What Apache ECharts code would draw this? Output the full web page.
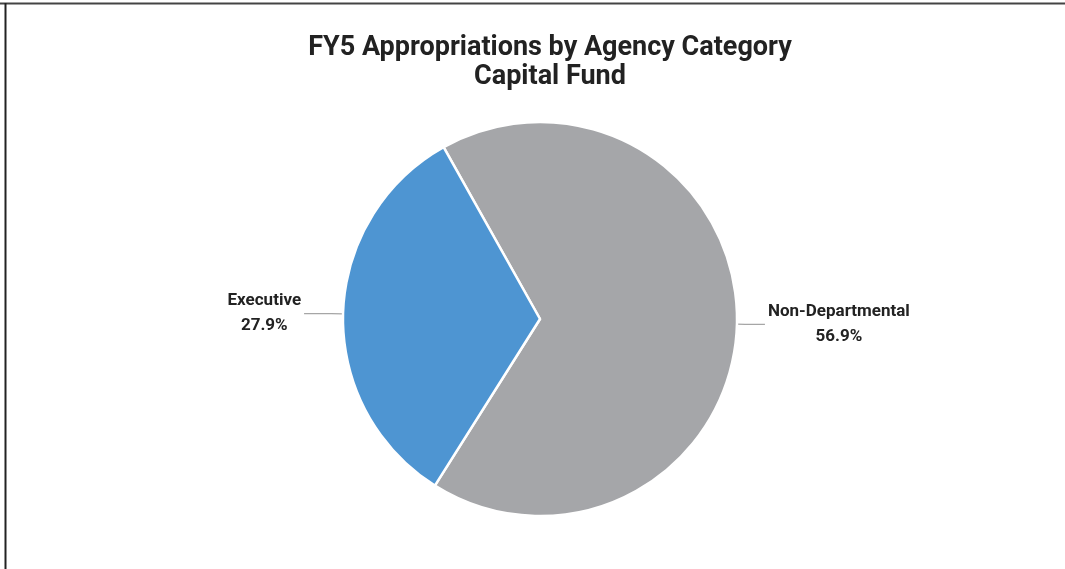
<!DOCTYPE html>
<html>
<head>
<meta charset="utf-8">
<script src="https://cdn.jsdelivr.net/npm/echarts@6/dist/echarts.min.js"></script>
<style>
    html, body { margin: 0; padding: 0; background: #fff; }
    #chart { width: 1065px; height: 569px; }
</style>
</head>
<body>
<div id="chart"></div>
<script>
const categories = ["Non-Departmental", "Executive"];
const values = [56.9, 27.9];
const colors = ["#A5A6A9", "#4E95D2"];

const getOption = () => {
    return {
        backgroundColor: "#fff",
        title: {
            text: "FY5 Appropriations by Agency Category\nCapital Fund",
            left: 545,
            top: 29,
            textAlign: "center",
            textStyle: {
                fontFamily: "Roboto",
                fontWeight: "bold",
                fontSize: 27,
                lineHeight: 29,
                color: "#222"
            }
        },
        graphic: [
            {
                type: "line",
                shape: { x1: 0, y1: 3.5, x2: 1065, y2: 3.5 },
                style: { stroke: "#444", lineWidth: 2 }
            },
            {
                type: "line",
                shape: { x1: 5.5, y1: 3, x2: 5.5, y2: 569 },
                style: { stroke: "#222", lineWidth: 2 }
            }
        ],
        series: [
            {
                type: "pie",
                center: [540, 319],
                radius: 197,
                startAngle: 119.3,
                clockwise: true,
                animation: false,
                itemStyle: {
                    borderColor: "#fff",
                    borderWidth: 2.5
                },
                label: {
                    show: true,
                    position: "outside",
                    distanceToLabelLine: 3,
                    fontFamily: "Roboto",
                    formatter: (p) => "{t|" + p.name + "}\n{t|" + p.value.toFixed(1) + "%}",
                    rich: {
                        t: {
                            fontFamily: "Roboto",
                            fontWeight: "bold",
                            fontSize: 17,
                            lineHeight: 25,
                            color: "#222",
                            align: "center"
                        }
                    }
                },
                labelLine: {
                    show: true,
                    lineStyle: { color: "#A6A6A6", width: 1.2 }
                },
                data: categories.map((name, i) => ({
                    name: name,
                    value: values[i],
                    itemStyle: { color: colors[i] },
                    labelLine: i === 0 ? { length: 8, length2: 20 } : { length: 12, length2: 27 }
                }))
            }
        ]
    };
};

const chart = echarts.init(document.getElementById("chart"));
chart.setOption(getOption());
</script>
</body>
</html>
